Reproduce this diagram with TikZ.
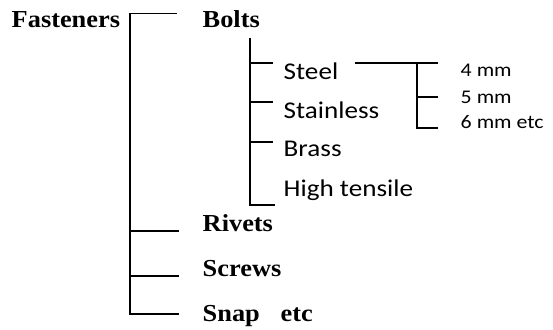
\documentclass[tikz,border=0pt]{standalone}
\usepackage{fontspec}
\setmainfont[FakeStretch=1.08]{Liberation Serif}
\newfontfamily\calibri[FakeStretch=1.13]{Carlito}

\begin{document}
\begin{tikzpicture}[x=0.75pt,y=-0.75pt,line width=1.1pt,
    kind/.style={font=\bfseries\fontsize{18.3}{20}\selectfont,anchor=base west,inner sep=0pt},
    metal/.style={font=\calibri\fontsize{18}{20}\selectfont,anchor=base west,inner sep=0pt},
    size/.style={font=\calibri\fontsize{14.5}{16}\selectfont,anchor=base west,inner sep=0pt}]
  \useasboundingbox (0,0) rectangle (553,329);

  % main kinds
  \node[kind] (fasteners) at (11,27) {Fasteners};
  \node[kind] (bolts) at (202,27) {Bolts};
  \node[kind] (rivets) at (202,231) {Rivets};
  \node[kind] (screws) at (202,276) {Screws};
  \node[kind] (snap) at (202,321) {Snap\hspace{0.85em}etc};

  % bolt materials
  \node[metal] (steel) at (283,79) {Steel};
  \node[metal] (stainless) at (283,118) {Stainless};
  \node[metal] (brass) at (283,156) {Brass};
  \node[metal] (tensile) at (283,196) {High tensile};

  % steel sizes
  \node[size] (mm4) at (460,76) {4 mm};
  \node[size] (mm5) at (460,103) {5 mm};
  \node[size] (mm6) at (460,128) {6 mm etc};

  % spines
  \coordinate (main) at (130,13.5);
  \coordinate (boltspine) at (250,38);
  \coordinate (steelspine) at (417,63);

  % main bracket
  \draw (main -| 177,0) -- (main) -- (main |- 0,314) -- (179,314);
  \draw (main |- 0,231) -- (179,231);
  \draw (main |- 0,276) -- (179,276);

  % bolts bracket
  \draw (boltspine) -- (boltspine |- 0,205) -- (275,205);
  \foreach \ty in {63,102,142}
    \draw (boltspine |- 0,\ty) -- (273,\ty);

  % steel bracket
  \draw (355,63) -- (438,63);
  \draw (steelspine) -- (steelspine |- 0,128) -- (438,128);
  \draw (steelspine |- 0,97) -- (438,97);
\end{tikzpicture}
\end{document}
